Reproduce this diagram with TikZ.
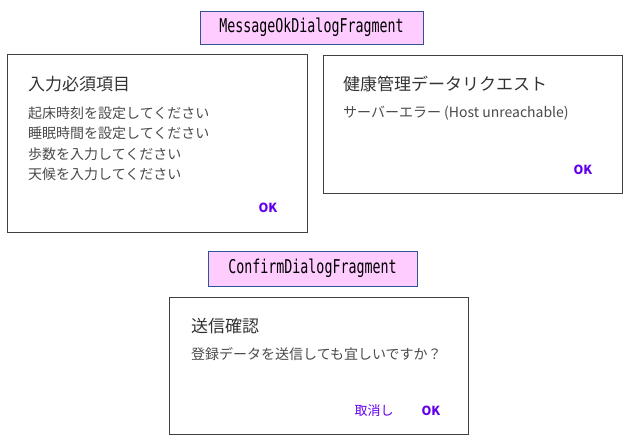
\documentclass[tikz,border=0pt]{standalone}
\usepackage{fontspec}
\setmainfont{Noto Sans CJK JP}
\newfontfamily\labelfont[FakeStretch=0.7]{DejaVu Sans Mono}
\definecolor{labelfill}{HTML}{FFCCFF}
\definecolor{labelline}{HTML}{2F5597}
\definecolor{dialogline}{HTML}{404040}
\definecolor{btnpurple}{HTML}{6200EE}
\definecolor{titlegray}{HTML}{333333}
\definecolor{bodygray}{HTML}{4A4A4A}
\tikzset{
  fraglabel/.style={draw=labelline,fill=labelfill,line width=0.9pt,inner sep=0pt,font=\labelfont\fontsize{19}{19}\selectfont},
  dialogbox/.style={draw=dialogline,line width=1pt,inner sep=0pt},
  dtitle/.style={anchor=west,inner sep=0pt,text=titlegray,font=\fontsize{17}{17}\selectfont},
  dbody/.style={anchor=west,inner sep=0pt,text=bodygray,font=\fontsize{14}{14}\selectfont},
  dbutton/.style={inner sep=0pt,text=btnpurple,font=\bfseries\fontsize{12.5}{12.5}\selectfont}
}
\begin{document}
\begin{tikzpicture}[x=1pt,y=-1pt]
\useasboundingbox (0,0) rectangle (634,440);

% MessageOkDialogFragment
\node[fraglabel,minimum width=223pt,minimum height=33pt] (lblok) at (311.5,27.5) {MessageOkDialogFragment};

% required items dialog
\node[dialogbox,minimum width=300pt,minimum height=178pt] (dlgreq) at (157,143) {};
\node[dtitle] (reqtitle) at (28,84) {入力必須項目};
\node[dbody] (reqa) at (28,113) {起床時刻を設定してください};
\node[dbody] (reqb) at (28,133.5) {睡眠時間を設定してください};
\node[dbody] (reqc) at (28,154) {歩数を入力してください};
\node[dbody] (reqd) at (28,174.5) {天候を入力してください};
\node[dbutton] (reqok) at (268,208) {OK};

% health data request dialog
\node[dialogbox,minimum width=299pt,minimum height=138pt] (dlgreq2) at (472.5,124) {};
\node[dtitle] (hltitle) at (343,84) {健康管理データリクエスト};
\node[dbody] (hlbody) at (343,113) {サーバーエラー (Host unreachable)};
\node[dbutton] (hlok) at (583,170) {OK};

% ConfirmDialogFragment
\node[fraglabel,minimum width=209pt,minimum height=35pt] (lblconf) at (312.5,268.5) {ConfirmDialogFragment};

% send confirm dialog
\node[dialogbox,minimum width=299pt,minimum height=137pt] (dlgsend) at (318.5,365.5) {};
\node[dtitle] (sendtitle) at (191,326) {送信確認};
\node[dbody] (sendbody) at (191,354) {登録データを送信しても宜しいですか？};
\node[dbutton,font=\fontsize{13}{13}\selectfont] (sendcancel) at (374,411) {取消し};
\node[dbutton] (sendok) at (431,411) {OK};
\end{tikzpicture}
\end{document}
